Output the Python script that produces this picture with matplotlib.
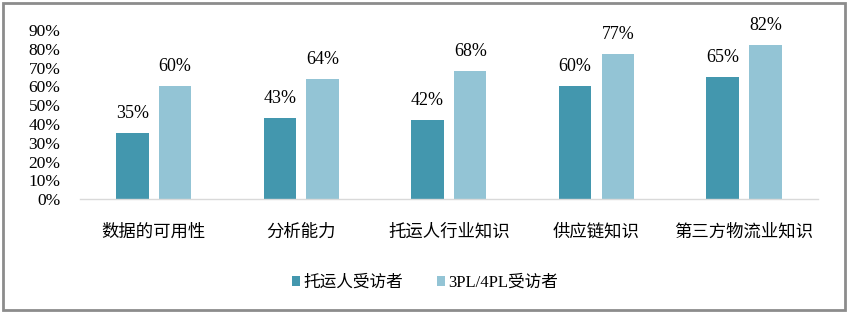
import matplotlib.pyplot as plt
import numpy as np
from matplotlib.patches import Rectangle

categories = ['数据的可用性', '分析能力', '托运人行业知识', '供应链知识', '第三方物流业知识']
shipper = [35, 43, 42, 60, 65]
logistics = [60, 64, 68, 77, 82]
series_names = ['托运人受访者', '3PL/4PL受访者']
yticks = [0, 10, 20, 30, 40, 50, 60, 70, 80, 90]

fam = ['Liberation Serif', 'Noto Sans CJK SC']
plt.rcParams['font.family'] = fam

dark = '#4397ae'
light = '#93c4d5'

fig = plt.figure(figsize=(8.5, 3.16), dpi=100)
ax = fig.add_axes([0.094, 0.37, 0.868, 0.535])

x = np.arange(len(categories))
w = 0.22
b1 = ax.bar(x - 0.145, shipper, w, color=dark, label=series_names[0])
b2 = ax.bar(x + 0.145, logistics, w, color=light, label=series_names[1])

for bars, vals in [(b1, shipper), (b2, logistics)]:
    for r, v in zip(bars, vals):
        ax.text(r.get_x() + r.get_width() / 2, v + 6, f'{v}%', ha='center', va='bottom',
                fontsize=13, color='black')

ax.set_xlim(-0.5, len(categories) - 0.5)
ax.set_ylim(0, 90)
ax.set_yticks(yticks)
ax.set_yticklabels([f'{t}%' for t in yticks], fontsize=12.5)
ax.set_xticks(x)
ax.set_xticklabels(categories, fontsize=12.5)
ax.tick_params(length=0)
ax.tick_params(axis='y', pad=14)
ax.tick_params(axis='x', pad=18)
for s in ['top', 'right', 'left']:
    ax.spines[s].set_visible(False)
ax.spines['bottom'].set_color('#d9d9d9')
ax.spines['bottom'].set_linewidth(1)

leg = fig.legend(handles=[b1, b2], labels=series_names, loc='center', bbox_to_anchor=(0.5, 0.105),
                 ncol=2, frameon=False, fontsize=12, handlelength=0.5, handleheight=0.5,
                 handletextpad=0.2, columnspacing=2.0)

fig.patches.append(Rectangle((0.004, 0.02), 0.99, 0.97, transform=fig.transFigure,
                             fill=False, edgecolor='#8c8c8c', linewidth=2))

fig.savefig('out.png', dpi=100, facecolor='white')
